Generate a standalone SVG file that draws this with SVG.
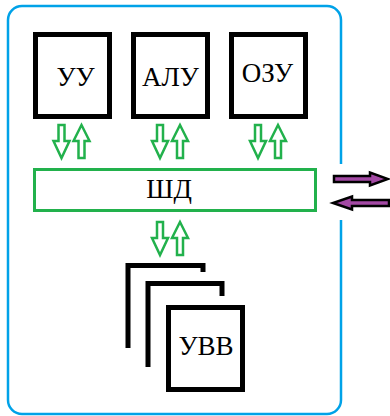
<svg xmlns="http://www.w3.org/2000/svg" width="390" height="416" viewBox="0 0 390 416">
<style>
.box{fill:#fff;stroke:#000;stroke-width:5}
.br{fill:none;stroke:#000;stroke-width:5}
.lbl{font-family:"Liberation Serif","Times New Roman",serif;font-size:27px;fill:#000;text-anchor:middle}
.ga{fill:#fff;stroke:#22b14c;stroke-width:2.5;stroke-linejoin:miter}
.pa{fill:#a349a4;stroke:#000;stroke-width:2.5;stroke-linejoin:miter}
.frame{fill:none;stroke:#00a2e8;stroke-width:2.5}
</style>
<defs>
<path id="dn" d="M-3,0 H3 V16 H8 L0,33 L-8,16 H-3 Z"/>
<path id="up" d="M0,0 L8,16 H3 V33 H-3 V16 H-8 Z"/>
</defs>
<g id="frame">
<path class="frame" d="M341,164 V20 A14,14 0 0 0 327,6 H22 A14,14 0 0 0 8,20 V400 A14,14 0 0 0 22,414 H327 A14,14 0 0 0 341,400 V220"/>
</g>
<g id="uu"><rect class="box" x="35.5" y="34.5" width="74" height="82"/><text class="lbl" x="75.5" y="86">УУ</text></g>
<g id="alu"><rect class="box" x="133.5" y="34.5" width="74" height="82"/><text class="lbl" x="170.5" y="86">АЛУ</text></g>
<g id="ozu"><rect class="box" x="231.5" y="34.5" width="74" height="82"/><text class="lbl" x="267.5" y="82">ОЗУ</text></g>
<g id="shd"><rect x="34.5" y="169.5" width="281" height="41" fill="#fff" stroke="#22b14c" stroke-width="3"/><text class="lbl" x="169" y="198">ШД</text></g>
<g id="uvv">
<path class="br" d="M128,348 V265.5 H203 V272"/>
<path class="br" d="M148,367 V283.5 H222 V296"/>
<rect class="box" x="168.5" y="307.5" width="74" height="82"/>
<text class="lbl" x="206" y="355">УВВ</text>
</g>
<g id="connectors">
<use href="#dn" class="ga" x="61.5" y="125"/>
<use href="#up" class="ga" x="81.5" y="125"/>
<use href="#dn" class="ga" x="160" y="125"/>
<use href="#up" class="ga" x="180" y="125"/>
<use href="#dn" class="ga" x="258" y="125"/>
<use href="#up" class="ga" x="278" y="125"/>
<use href="#dn" class="ga" x="160" y="222"/>
<use href="#up" class="ga" x="180" y="222"/>
<path class="pa" d="M334,176 H370 V172.5 L388,179 L370,185.5 V182 H334 Z"/>
<path class="pa" d="M389,200 H352 V196.5 L333,203 L352,209.5 V206 H389 Z"/>
</g>
</svg>
